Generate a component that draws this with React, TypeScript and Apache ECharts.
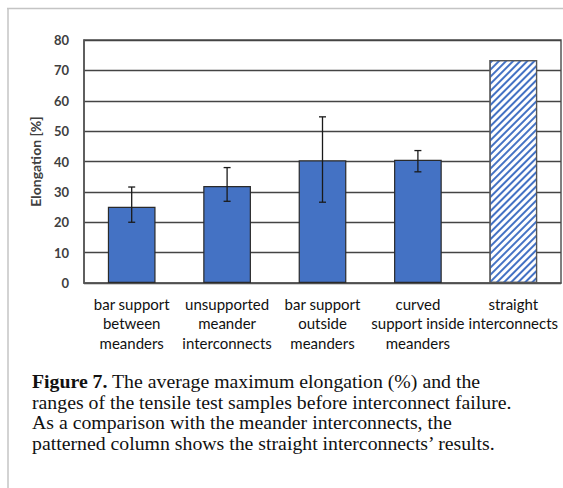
import React, { useEffect, useRef } from "react";
import * as echarts from "echarts";

const categories = [
  "bar support\nbetween\nmeanders",
  "unsupported\nmeander\ninterconnects",
  "bar support\noutside\nmeanders",
  "curved\nsupport inside\nmeanders",
  "straight\ninterconnects",
];
const meanValues = [25.1, 31.9, 40.4, 40.6, 73.4];
const errLow: (number | null)[] = [20.0, 26.9, 26.6, 36.6, null];
const errHigh: (number | null)[] = [31.6, 38.0, 54.7, 43.6, null];
const yTicks = { min: 0, max: 80, interval: 10 };
const patternedIndex = 4;

const captionLines = [
  "{b|Figure 7.} The average maximum elongation (%) and the",
  "ranges of the tensile test samples before interconnect failure.",
  "As a comparison with the meander interconnects, the",
  "patterned column shows the straight interconnects’ results.",
];

const BLUE = "#4472C4";
const LABEL_FONT = "Lato, 'Open Sans', sans-serif";
const SERIF = "'Liberation Serif', 'Times New Roman', serif";

export default function App() {
  const ref = useRef<HTMLDivElement>(null);
  useEffect(() => {
    if (!ref.current) return;
    const chart = echarts.init(ref.current, undefined, { renderer: "svg" });
    const barData = meanValues.map((v, i) =>
      i === patternedIndex
        ? {
            value: v,
            itemStyle: {
              color: "#ffffff",
              borderColor: "#555555",
              borderWidth: 1.2,
              decal: {
                symbol: "rect",
                symbolSize: 1,
                color: BLUE,
                dashArrayX: [1, 0],
                dashArrayY: [2, 2.2],
                rotation: -Math.PI / 4,
              },
            },
          }
        : { value: v }
    );
    const errData = categories
      .map((_, i) => [i, errLow[i], errHigh[i]])
      .filter((d) => d[1] != null);
    chart.setOption({
      animation: false,
      grid: {
        left: 84,
        top: 40,
        right: 2,
        bottom: 205,
        show: true,
        borderColor: "#555555",
        borderWidth: 1.5,
        backgroundColor: "transparent",
      },
      xAxis: {
        type: "category",
        data: categories,
        axisTick: { show: false },
        axisLine: { lineStyle: { color: "#555555", width: 1.5 } },
        axisLabel: {
          interval: 0,
          margin: 11,
          fontFamily: LABEL_FONT,
          fontSize: 15,
          lineHeight: 19.5,
          color: "#111111",
          align: "center",
        },
      },
      yAxis: {
        type: "value",
        min: yTicks.min,
        max: yTicks.max,
        interval: yTicks.interval,
        name: "Elongation [%]",
        nameLocation: "middle",
        nameGap: 42,
        nameTextStyle: {
          fontFamily: LABEL_FONT,
          fontSize: 14,
          fontWeight: "bold",
          color: "#404040",
        },
        axisLine: { show: true, lineStyle: { color: "#555555", width: 1.5 } },
        axisTick: { show: false },
        axisLabel: {
          margin: 15,
          fontFamily: LABEL_FONT,
          fontSize: 13,
          fontWeight: "bold",
          color: "#404040",
        },
        splitLine: { lineStyle: { color: "#444444", width: 1.4 } },
      },
      series: [
        {
          type: "bar",
          data: barData,
          barWidth: "50%",
          itemStyle: { color: BLUE, borderColor: "#2a2a2a", borderWidth: 1.2 },
          z: 2,
        },
        {
          type: "custom",
          data: errData,
          z: 5,
          renderItem: (params: any, api: any) => {
            const x = api.value(0);
            const lo = api.coord([x, api.value(1)]);
            const hi = api.coord([x, api.value(2)]);
            const cap = 3.5;
            const style = { stroke: "#1a1a1a", lineWidth: 1.3 };
            return {
              type: "group",
              children: [
                { type: "line", shape: { x1: lo[0], y1: lo[1], x2: hi[0], y2: hi[1] }, style },
                { type: "line", shape: { x1: lo[0] - cap, y1: lo[1], x2: lo[0] + cap, y2: lo[1] }, style },
                { type: "line", shape: { x1: hi[0] - cap, y1: hi[1], x2: hi[0] + cap, y2: hi[1] }, style },
              ],
            };
          },
        },
      ],
      graphic: [
        {
          type: "line",
          shape: { x1: 7, y1: 8.5, x2: 563, y2: 8.5 },
          style: { stroke: "#c4c4c4", lineWidth: 1.5 },
        },
        {
          type: "line",
          shape: { x1: 8, y1: 8, x2: 8, y2: 488 },
          style: { stroke: "#c4c4c4", lineWidth: 1.5 },
        },
        {
          type: "text",
          left: 32,
          top: 371,
          style: {
            text: captionLines.join("\n"),
            fontFamily: SERIF,
            fontSize: 19.8,
            lineHeight: 20.5,
            fill: "#111111",
            rich: {
              b: {
                fontFamily: SERIF,
                fontSize: 19.8,
                fontWeight: "bold",
                lineHeight: 20.5,
                fill: "#111111",
              },
            },
          },
        },
      ],
    });
    return () => chart.dispose();
  }, []);
  return (
    <div
      ref={ref}
      style={{ position: "absolute", left: 0, top: 0, width: 563, height: 488, background: "#fff" }}
    />
  );
}
